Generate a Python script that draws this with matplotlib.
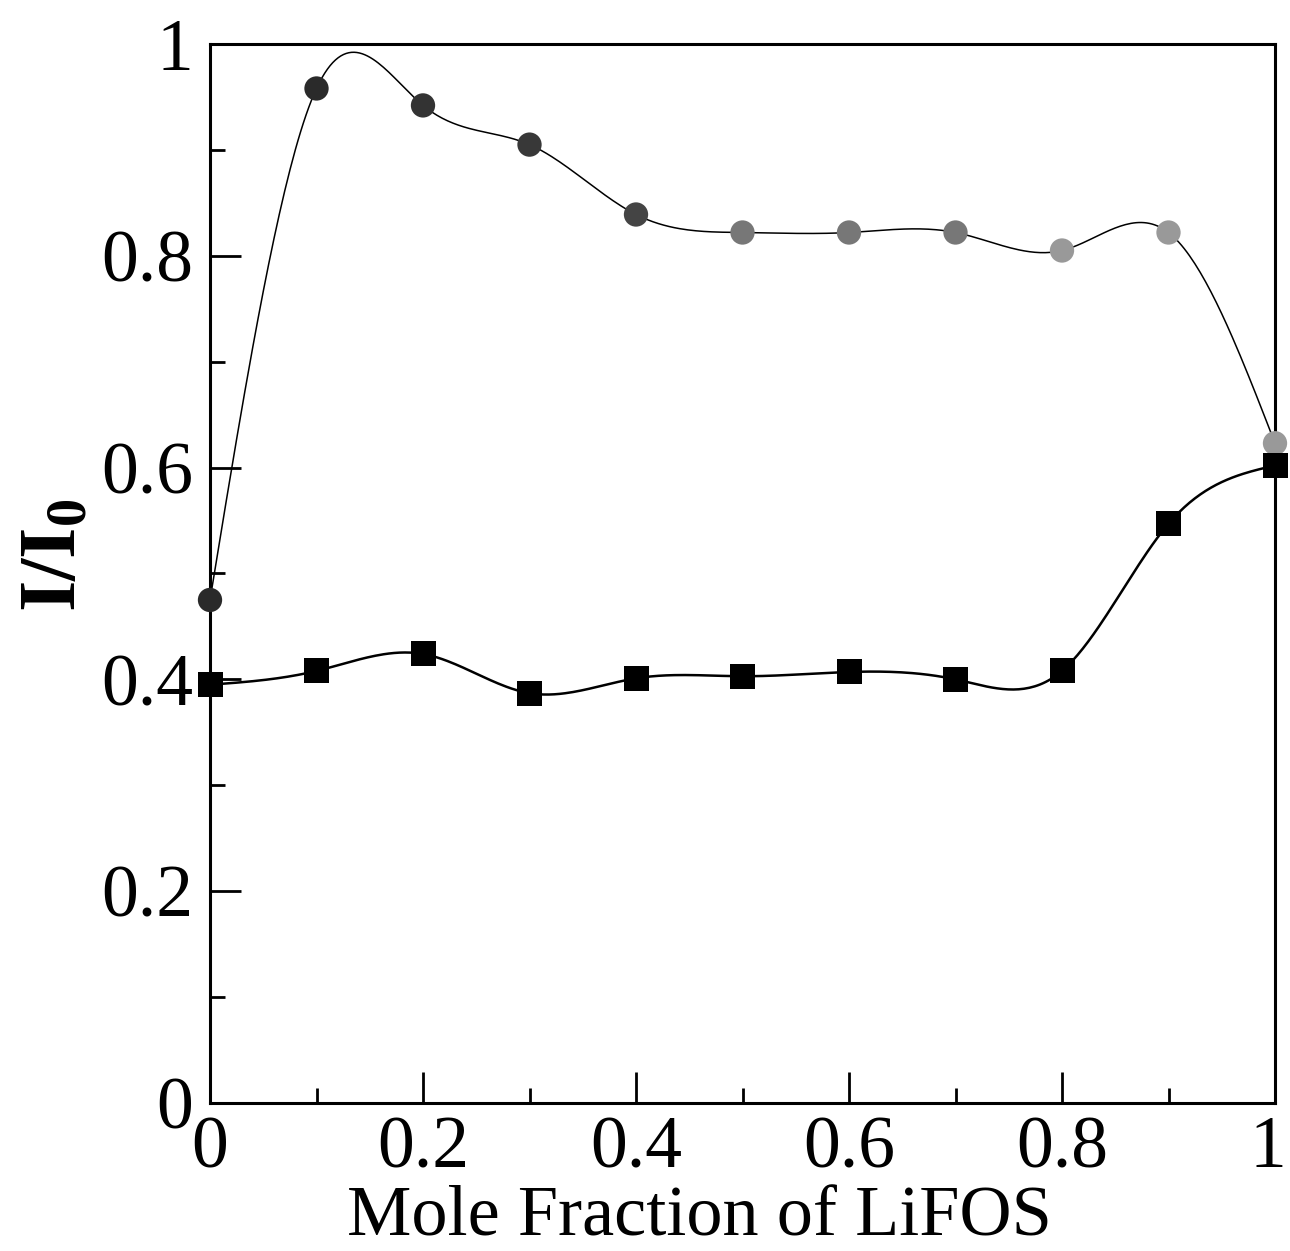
import numpy as np
import matplotlib.pyplot as plt
import matplotlib.transforms as mtransforms
from matplotlib.ticker import MultipleLocator

# mole fraction of LiFOS
x = [0.0, 0.1, 0.2, 0.3, 0.4, 0.5, 0.6, 0.7, 0.8, 0.9, 1.0]
# circles
y_circ = [0.475, 0.958, 0.942, 0.905, 0.839, 0.822, 0.822, 0.822, 0.805, 0.822, 0.623]
# squares
y_sq = [0.395, 0.408, 0.424, 0.387, 0.401, 0.403, 0.407, 0.400, 0.408, 0.547, 0.602]


def natural_spline(xs, ys, n=400):
    xs = np.asarray(xs, float)
    ys = np.asarray(ys, float)
    m = len(xs)
    h = np.diff(xs)
    A = np.zeros((m, m))
    r = np.zeros(m)
    A[0, 0] = 1
    A[-1, -1] = 1
    for i in range(1, m - 1):
        A[i, i - 1] = h[i - 1]
        A[i, i] = 2 * (h[i - 1] + h[i])
        A[i, i + 1] = h[i]
        r[i] = 6 * ((ys[i + 1] - ys[i]) / h[i] - (ys[i] - ys[i - 1]) / h[i - 1])
    M = np.linalg.solve(A, r)
    xx = np.linspace(xs[0], xs[-1], n)
    idx = np.clip(np.searchsorted(xs, xx) - 1, 0, m - 2)
    x0 = xs[idx]
    x1 = xs[idx + 1]
    hh = x1 - x0
    yy = (M[idx] * (x1 - xx) ** 3 / (6 * hh) + M[idx + 1] * (xx - x0) ** 3 / (6 * hh)
          + (ys[idx] / hh - M[idx] * hh / 6) * (x1 - xx)
          + (ys[idx + 1] / hh - M[idx + 1] * hh / 6) * (xx - x0))
    return xx, yy


plt.rcParams['font.family'] = 'Liberation Serif'
plt.rcParams['mathtext.fontset'] = 'custom'
plt.rcParams['mathtext.rm'] = 'Liberation Serif'
plt.rcParams['mathtext.bf'] = 'Liberation Serif:bold'

fig = plt.figure(figsize=(12.9, 12.51), dpi=100)
ax = fig.add_axes([210 / 1290, 1 - 1103 / 1251, 1065 / 1290, 1059 / 1251])

xc, yc = natural_spline(x, y_circ)
xs_, ys_ = natural_spline(x, y_sq)
ax.plot(xc, yc, color='black', lw=1.1, zorder=2)
ax.plot(xs_, ys_, color='black', lw=1.8, zorder=2)

circ_cols = ['#2a2a2a', '#2a2a2a', '#333333', '#383838', '#444444', '#777777',
             '#777777', '#777777', '#999999', '#999999', '#999999']
ax.scatter(x, y_circ, s=17.5 ** 2, c=circ_cols, marker='o', zorder=3, clip_on=False,
           edgecolors='none')
ax.scatter(x, y_sq, s=18 ** 2, c='black', marker='s', zorder=3, clip_on=False,
           edgecolors='none')

ax.set_xlim(0, 1)
ax.set_ylim(0, 1)
ax.xaxis.set_major_locator(MultipleLocator(0.2))
ax.xaxis.set_minor_locator(MultipleLocator(0.1))
ax.yaxis.set_major_locator(MultipleLocator(0.2))
ax.yaxis.set_minor_locator(MultipleLocator(0.1))
ax.xaxis.set_major_formatter(lambda v, p: '%g' % round(v, 2))
ax.yaxis.set_major_formatter(lambda v, p: '%g' % round(v, 2))
ax.tick_params(which='both', direction='in', width=2, labelsize=53)
ax.tick_params(which='major', length=22)
ax.tick_params(which='minor', length=11)
ax.tick_params(axis='y', pad=12)
ax.tick_params(axis='x', pad=9)
for s in ax.spines.values():
    s.set_linewidth(2.2)

ax.set_xlabel('Mole Fraction of LiFOS', fontsize=52, va='baseline')
ax.xaxis.set_label_coords(0.46, -0.125)
ax.set_ylabel(r'$\mathbf{I/I_0}$', fontsize=58)
ax.yaxis.set_label_coords(-0.11, 0.517)

# nudge the "1" at the right edge so it stays inside the figure
fig.canvas.draw()
last = ax.xaxis.get_major_ticks()[-1].label1
for t in ax.xaxis.get_major_ticks():
    if abs(t.get_loc() - 1.0) < 1e-9:
        last = t.label1
last.set_transform(last.get_transform()
                   + mtransforms.ScaledTranslation(-5 / 72, 0, fig.dpi_scale_trans))

fig.savefig('out.png', dpi=100)
